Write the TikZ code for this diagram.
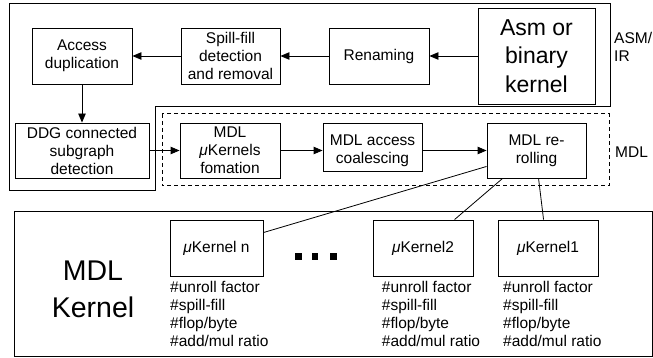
\documentclass[tikz,border=0pt]{standalone}
\usepackage{fontspec}
\setmainfont{Liberation Sans}
\usetikzlibrary{arrows.meta,calc}
\begin{document}
\begin{tikzpicture}[x=1pt,y=-1pt,
  box/.style={draw,line width=0.9pt,inner sep=0pt,align=center,font=\fontsize{15.5}{18}\selectfont},
  arr/.style={line width=0.9pt,-{Triangle[length=9pt,width=7.5pt]}},
  frame/.style={line width=1pt},
  lbl/.style={inner sep=0pt,align=left,font=\fontsize{15.5}{18}\selectfont},
  conn/.style={line width=0.8pt}]
\useasboundingbox (0,0) rectangle (653,358);
% frames
\draw[frame] (9,4) -- (610,4) -- (610,107) -- (155,107) -- (155,191) -- (9,191) -- cycle;
\draw[frame,dash pattern=on 4pt off 3pt] (162,114) rectangle (609,186);
\draw[frame] (14,212) rectangle (652,356);
% top row
\node[box,minimum width=100pt,minimum height=56pt] (acc) at (82,56) {Access\\duplication};
\node[box,minimum width=99pt,minimum height=56pt] (spill) at (230.5,56) {Spill-fill\\detection\\and removal};
\node[box,minimum width=100pt,minimum height=56pt] (ren) at (379,56) {Renaming};
\node[box,minimum width=117pt,minimum height=96pt,font=\fontsize{23}{28.5}\selectfont] (asm) at (536.5,56) {Asm or\\binary\\kernel};
% second row
\node[box,minimum width=134pt,minimum height=55pt] (ddg) at (82,150.5) {DDG connected\\subgraph\\detection};
\node[box,minimum width=100pt,minimum height=55pt] (muk) at (230,150.5) {MDL\\{\itshape μ}Kernels\\fomation};
\node[box,minimum width=99pt,minimum height=48pt] (coal) at (372.5,147) {\rule{0pt}{19pt}MDL access\\coalescing};
\node[box,minimum width=99pt,minimum height=55pt] (rr) at (536.5,150.5) {MDL re-\\rolling};
% arrows
\draw[arr] (asm.west) -- (ren.east);
\draw[arr] (ren.west) -- (spill.east);
\draw[arr] (spill.west) -- (acc.east);
\draw[arr] (acc.south) -- (ddg.north);
\draw[arr] (ddg.east) -- (muk.west);
\draw[arr] (muk.east) -- (muk.east -| coal.west);
\draw[arr] (muk.east -| coal.east) -- (muk.east -| rr.west);
% side labels
\node[lbl,anchor=west] (asmir) at (614,47) {ASM/\\IR};
\node[lbl,anchor=west] (mdl) at (615,152) {MDL};
% bottom
\node[inner sep=0pt,align=center,font=\fontsize{28.5}{37}\selectfont] (mk) at (93,289) {MDL\\Kernel};
\node[box,minimum width=93pt,minimum height=56pt] (kn) at (216.5,248) {{\itshape μ}Kernel n};
\node[box,minimum width=100pt,minimum height=56pt] (k2) at (423,248) {{\itshape μ}Kernel2};
\node[box,minimum width=100pt,minimum height=56pt] (k1) at (548,248) {{\itshape μ}Kernel1};
\node[lbl,anchor=north west] (tn) at (170,281) {\#unroll factor\\\#spill-fill\\\#flop/byte\\\#add/mul ratio};
\node[lbl,anchor=north west] (t2) at (381.7,281) {\#unroll factor\\\#spill-fill\\\#flop/byte\\\#add/mul ratio};
\node[lbl,anchor=north west] (t1) at (503,281) {\#unroll factor\\\#spill-fill\\\#flop/byte\\\#add/mul ratio};
\foreach \x in {298.3,315,333.3} \fill (\x-3.3,253.3) rectangle (\x+3.3,259.9);
% connectors
\draw[conn] ($(rr.south west)+(0,-12)$) -- ($(kn.north east)+(0,13)$);
\draw[conn] ($(rr.south west)+(16,0)$) -- ($(k2.north west)+(82,0)$);
\draw[conn] ($(rr.south west)+(52,0)$) -- ($(k1.north west)+(46,0)$);
\end{tikzpicture}
\end{document}
